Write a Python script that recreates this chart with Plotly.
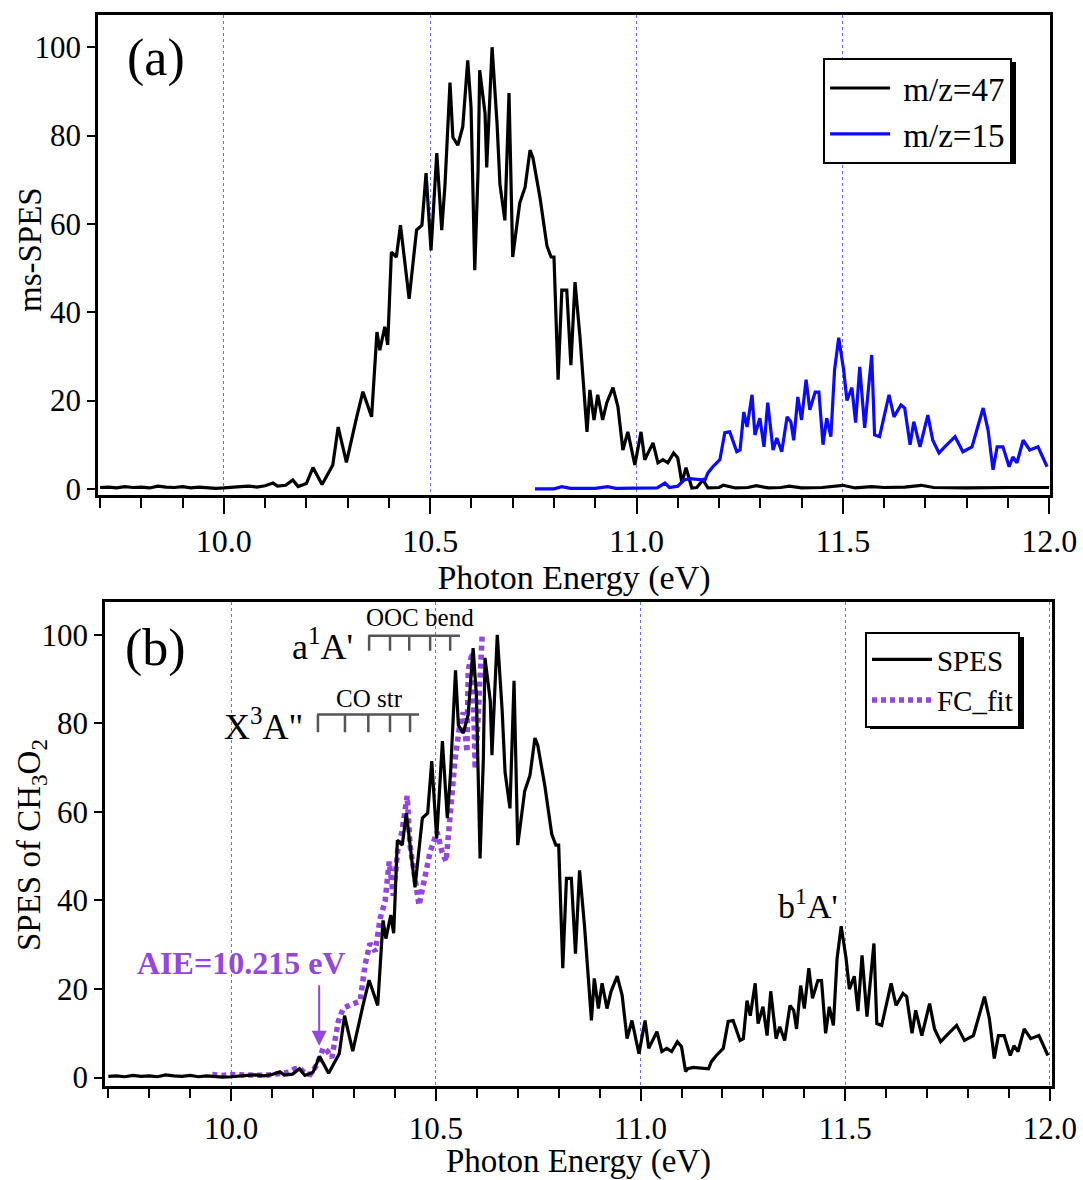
import plotly.graph_objects as go

# ---------------- data ----------------
m47_x = [9.700, 9.720, 9.740, 9.760, 9.780, 9.800, 9.820, 9.840, 9.860, 9.880, 9.900, 9.920,
         9.940, 9.960, 9.980, 10.000, 10.020, 10.040, 10.060, 10.080, 10.100, 10.119, 10.130,
         10.150, 10.167, 10.180, 10.200, 10.216, 10.238, 10.264, 10.277, 10.297, 10.322, 10.337,
         10.358, 10.371, 10.378, 10.390, 10.397, 10.406, 10.418, 10.428, 10.449, 10.467, 10.480,
         10.490, 10.502, 10.516, 10.528, 10.536, 10.548, 10.555, 10.567, 10.579, 10.591, 10.599,
         10.608, 10.616, 10.620, 10.633, 10.637, 10.650, 10.662, 10.669, 10.681, 10.691, 10.700,
         10.717, 10.730, 10.742, 10.749, 10.766, 10.783, 10.793, 10.800, 10.810, 10.819, 10.831,
         10.841, 10.851, 10.863, 10.880, 10.887, 10.897, 10.906, 10.918, 10.928, 10.943, 10.955,
         10.967, 10.979, 10.996, 11.011, 11.020, 11.040, 11.052, 11.064, 11.076, 11.090, 11.100,
         11.110, 11.120, 11.134, 11.146, 11.161, 11.173, 11.200, 11.210, 11.240, 11.270, 11.290,
         11.320, 11.350, 11.370, 11.400, 11.450, 11.500, 11.530, 11.570, 11.600, 11.650, 11.690,
         11.720, 11.800, 11.900, 12.000]
m47_y = [0.3, 0.4, 0.2, 0.5, 0.3, 0.4, 0.2, 0.6, 0.4, 0.3, 0.5, 0.2,
         0.4, 0.3, 0.1, 0.2, 0.4, 0.5, 0.6, 0.4, 0.7, 1.3, 0.6,
         0.8, 2.0, 0.5, 1.2, 4.8, 1.0, 5.4, 14.0, 6.0, 16.3, 22.0,
         16.3, 35.5, 31.4, 36.7, 32.6, 53.6, 52.5, 59.7, 43.0, 58.6, 59.7,
         71.5, 54.0, 76.0, 58.6, 69.0, 92.0, 79.6, 77.8, 82.0, 97.0, 86.4,
         49.5, 72.0, 94.8, 85.0, 72.8, 100.0, 82.8, 69.0, 60.8, 89.6, 52.5,
         64.7, 68.3, 76.7, 75.0, 66.0, 55.0, 52.5, 52.5, 24.7, 45.0, 45.0,
         28.0, 46.8, 34.4, 12.9, 22.4, 15.6, 21.3, 15.6, 19.5, 22.9, 18.6,
         8.8, 12.9, 5.4, 12.9, 6.6, 10.4, 5.9, 6.6, 5.9, 8.1, 7.0,
         1.4, 4.8, 0.2, 0.3, 2.0, 0.2, 0.3, 0.8, 0.2, 0.3, 0.7,
         0.2, 0.3, 0.6, 0.2, 0.3, 0.8, 0.2, 0.5, 0.3, 0.4, 0.8,
         0.3, 0.2, 0.3, 0.3]

m15_x = [10.754, 10.800, 10.819, 10.840, 10.900, 10.930, 10.950, 11.000, 11.050, 11.069,
         11.080, 11.100, 11.115, 11.129, 11.146, 11.166, 11.173, 11.185, 11.202, 11.214,
         11.226, 11.243, 11.251, 11.260, 11.268, 11.280, 11.287, 11.299, 11.309, 11.318,
         11.331, 11.340, 11.352, 11.365, 11.374, 11.381, 11.391, 11.400, 11.411, 11.420,
         11.433, 11.442, 11.452, 11.461, 11.471, 11.480, 11.490, 11.502, 11.510, 11.522,
         11.531, 11.541, 11.553, 11.570, 11.577, 11.589, 11.612, 11.624, 11.641, 11.650,
         11.663, 11.672, 11.687, 11.706, 11.718, 11.733, 11.747, 11.772, 11.791, 11.813,
         11.840, 11.852, 11.864, 11.874, 11.888, 11.903, 11.912, 11.922, 11.937, 11.953,
         11.973, 11.995]
m15_y = [0.0, 0.0, 0.5, 0.1, 0.1, 0.5, 0.1, 0.1, 0.2, 1.3,
         0.3, 0.6, 2.0, 2.3, 2.2, 2.0, 3.6, 5.0, 6.6, 12.7,
         12.9, 8.4, 8.8, 17.4, 14.0, 21.3, 12.2, 16.0, 9.5, 19.5,
         8.8, 11.5, 8.4, 16.3, 15.2, 11.0, 20.8, 15.6, 24.7, 17.9,
         21.9, 21.9, 10.0, 16.0, 11.8, 26.9, 34.2, 26.9, 20.0, 22.9,
         15.0, 27.6, 13.8, 30.3, 12.2, 11.8, 21.3, 16.3, 19.0, 18.3,
         10.0, 15.2, 9.5, 16.7, 11.0, 8.1, 9.5, 11.8, 8.4, 9.5,
         18.3, 13.3, 4.3, 9.5, 9.5, 5.0, 7.2, 5.9, 11.0, 8.8,
         9.5, 5.0]

# SPES of CH3O2: m/z=47 below the crossing, m/z=15 above it
cut47 = 101   # first m47 index at x >= 11.115
cut15 = 12    # first m15 index at x >= 11.115
spes_x = m47_x[:cut47] + m15_x[cut15:]
spes_y = m47_y[:cut47] + m15_y[cut15:]

fc_x = [9.954, 9.980, 10.000, 10.020, 10.040, 10.060, 10.080, 10.100, 10.120, 10.140, 10.155,
        10.168, 10.180, 10.193, 10.210, 10.225, 10.235, 10.246, 10.262, 10.274, 10.291, 10.315,
        10.327, 10.339, 10.352, 10.364, 10.376, 10.386, 10.396, 10.408, 10.417, 10.430, 10.437,
        10.449, 10.459, 10.471, 10.486, 10.503, 10.515, 10.525, 10.532, 10.542, 10.547, 10.557,
        10.567, 10.576, 10.579, 10.589, 10.596, 10.603, 10.613]
fc_y = [0.7, 0.5, 0.7, 0.6, 0.8, 0.6, 0.5, 0.7, 0.9, 1.2, 2.0,
        2.2, 0.9, 0.7, 3.0, 6.7, 6.0, 4.5, 12.8, 15.7, 16.4, 17.3,
        25.4, 30.3, 28.5, 36.0, 39.8, 48.8, 41.1, 52.4, 55.5, 63.6, 52.4,
        44.3, 38.9, 44.3, 51.0, 55.5, 51.0, 48.8, 56.9, 65.8, 71.9, 78.7,
        82.5, 73.5, 92.1, 96.0, 69.7, 80.9, 99.6]

# vibrational progressions (comb positions)
ooc_ticks = [10.337, 10.388, 10.435, 10.486, 10.535]
ooc_span = [10.335, 10.559]
co_ticks = [10.212, 10.278, 10.335, 10.388, 10.437]
co_span = [10.210, 10.459]

x_ticks = [10.0, 10.5, 11.0, 11.5, 12.0]
x_ticklabels = ["10.0", "10.5", "11.0", "11.5", "12.0"]
y_ticks = [0, 20, 40, 60, 80, 100]

# ---------------- styling ----------------
FONT = "Liberation Serif"
BLACK = "#000000"
BLUE = "#0a0aff"
PURPLE = "#9446e0"
GRID = "#6a6aff"
GRAY = "#555555"

fig = go.Figure()
fig.add_trace(go.Scatter(x=m47_x, y=m47_y, mode="lines", name=" m/z=47",
                         line=dict(color=BLACK, width=3.2), xaxis="x", yaxis="y", legend="legend"))
fig.add_trace(go.Scatter(x=m15_x, y=m15_y, mode="lines", name=" m/z=15",
                         line=dict(color=BLUE, width=3.2), xaxis="x", yaxis="y", legend="legend"))
fig.add_trace(go.Scatter(x=fc_x, y=fc_y, mode="lines", name="FC_fit",
                         line=dict(color=PURPLE, width=5.5, dash="5px,4px"),
                         xaxis="x2", yaxis="y2", legend="legend2", showlegend=False))
fig.add_trace(go.Scatter(x=spes_x, y=spes_y, mode="lines", name="SPES",
                         line=dict(color=BLACK, width=3.2), xaxis="x2", yaxis="y2", legend="legend2"))
# legend entry for FC_fit (keeps order SPES, FC_fit)
fig.add_trace(go.Scatter(x=[None], y=[None], mode="lines", name="FC_fit",
                         line=dict(color=PURPLE, width=5.5, dash="5px,4px"),
                         xaxis="x2", yaxis="y2", legend="legend2"))

def xaxis_style(domain, rng, anchor, tfs, ttl_fs, tl):
    return dict(domain=domain, range=rng, anchor=anchor,
                tickmode="array", tickvals=x_ticks, ticktext=x_ticklabels,
                ticks="outside", ticklen=tl, tickwidth=2, tickcolor=BLACK,
                minor=dict(dtick=0.1, tick0=9.7, ticks="outside", ticklen=10, tickwidth=2,
                           tickcolor=BLACK, showgrid=False),
                showgrid=True, gridcolor=GRID, griddash="dot", gridwidth=1,
                showline=True, mirror=True, linewidth=2.5, linecolor=BLACK,
                zeroline=False, automargin=False,
                tickfont=dict(family=FONT, size=tfs, color=BLACK),
                title=dict(text="Photon Energy (eV)", font=dict(family=FONT, size=ttl_fs, color=BLACK),
                           standoff=0))

def yaxis_style(domain, rng, anchor):
    return dict(domain=domain, range=rng, anchor=anchor,
                tickmode="array", tickvals=y_ticks,
                ticks="outside", ticklen=8, tickwidth=2, tickcolor=BLACK,
                showgrid=False, showline=True, mirror=True, linewidth=2.5, linecolor=BLACK,
                zeroline=False, automargin=False,
                tickfont=dict(family=FONT, size=31, color=BLACK))

fig.update_layout(
    width=1083, height=1180,
    margin=dict(l=0, r=0, t=0, b=0),
    paper_bgcolor="white", plot_bgcolor="white",
    font=dict(family=FONT, color=BLACK),
    xaxis=xaxis_style([0.0905, 0.9695], [9.695, 12.002], "y", 32, 34, 16),
    yaxis=yaxis_style([0.5805, 0.9873], [-1.4, 107.3], "x"),
    xaxis2=xaxis_style([0.097, 0.9714], [9.692, 12.005], "y2", 31, 33, 13),
    yaxis2=yaxis_style([0.080, 0.4898], [-1.8, 107.4], "x2"),
    legend=dict(x=0.760, y=0.9508, xanchor="left", yanchor="top",
                bgcolor="white", bordercolor=BLACK, borderwidth=2,
                font=dict(family=FONT, size=33, color=BLACK), itemwidth=60,
                tracegroupgap=0),
    legend2=dict(x=0.7987, y=0.4644, xanchor="left", yanchor="top",
                 bgcolor="white", bordercolor=BLACK, borderwidth=2,
                 font=dict(family=FONT, size=29, color=BLACK), itemwidth=60,
                 tracegroupgap=0),
    showlegend=True,
)

W, H = 1083.0, 1180.0
shapes = []
# legend drop shadows (thicker right / bottom edges)
shapes.append(dict(type="rect", xref="paper", yref="paper", layer="above",
                   x0=827 / W, x1=1016 / W, y0=1 - 164 / H, y1=1 - 62 / H,
                   line=dict(width=0), fillcolor=BLACK))
shapes.append(dict(type="rect", xref="paper", yref="paper", layer="above",
                   x0=870 / W, x1=1024 / W, y0=1 - 729 / H, y1=1 - 637 / H,
                   line=dict(width=0), fillcolor=BLACK))
# OOC bend comb
shapes.append(dict(type="line", xref="x2", yref="y2", x0=ooc_span[0], x1=ooc_span[1],
                   y0=99.8, y1=99.8, line=dict(color=GRAY, width=2.5)))
for t in ooc_ticks:
    shapes.append(dict(type="line", xref="x2", yref="y2", x0=t, x1=t, y0=99.8, y1=96.4,
                       line=dict(color=GRAY, width=2.5)))
# CO str comb
shapes.append(dict(type="line", xref="x2", yref="y2", x0=co_span[0], x1=co_span[1],
                   y0=82.0, y1=82.0, line=dict(color=GRAY, width=2.5)))
for t in co_ticks:
    shapes.append(dict(type="line", xref="x2", yref="y2", x0=t, x1=t, y0=82.0, y1=78.0,
                       line=dict(color=GRAY, width=2.5)))
fig.update_layout(shapes=shapes)

ann = [
    dict(text="ms-SPES", xref="paper", yref="paper", x=30 / W, y=1 - 250 / H, textangle=-90,
         xanchor="center", yanchor="middle", showarrow=False,
         font=dict(family=FONT, size=33, color=BLACK)),
    dict(text="SPES of CH<sub>3</sub>O<sub>2</sub>", xref="paper", yref="paper", x=31 / W,
         y=1 - 845 / H, textangle=-90, xanchor="center", yanchor="middle", showarrow=False,
         font=dict(family=FONT, size=33, color=BLACK)),
    dict(text="(a)", xref="paper", yref="paper", x=0.144, y=0.951, xanchor="center",
         yanchor="middle", showarrow=False, font=dict(family=FONT, size=52, color=BLACK)),
    dict(text="(b)", xref="paper", yref="paper", x=0.144, y=0.4508, xanchor="center",
         yanchor="middle", showarrow=False, font=dict(family=FONT, size=52, color=BLACK)),
    dict(text="a<sup>1</sup>A'", xref="x2", yref="y2", x=10.303, y=97.8, xanchor="right",
         yanchor="middle", showarrow=False, font=dict(family=FONT, size=36, color=BLACK)),
    dict(text="X<sup>3</sup>A\"", xref="x2", yref="y2", x=10.181, y=79.8, xanchor="right",
         yanchor="middle", showarrow=False, font=dict(family=FONT, size=36, color=BLACK)),
    dict(text="OOC bend", xref="x2", yref="y2", x=10.461, y=103.8, xanchor="center",
         yanchor="middle", showarrow=False, font=dict(family=FONT, size=25, color=BLACK)),
    dict(text="CO str", xref="x2", yref="y2", x=10.339, y=85.6, xanchor="center",
         yanchor="middle", showarrow=False, font=dict(family=FONT, size=25, color=BLACK)),
    dict(text="b<sup>1</sup>A'", xref="x2", yref="y2", x=11.409, y=39.3, xanchor="center",
         yanchor="middle", showarrow=False, font=dict(family=FONT, size=34, color=BLACK)),
    dict(text="<b>AIE=10.215 eV</b>", xref="x2", yref="y2", x=10.024, y=25.8, xanchor="center",
         yanchor="middle", showarrow=False, font=dict(family=FONT, size=32, color=PURPLE)),
    dict(text="", xref="x2", yref="y2", x=10.215, y=7.2, ax=0, ay=-62, showarrow=True,
         arrowhead=2, arrowsize=1.5, arrowwidth=2, arrowcolor=PURPLE),
]
fig.update_layout(annotations=ann)

fig.write_html("out.html", config={"displayModeBar": False},
               post_script="document.body.style.margin='0px';document.body.style.overflow='hidden';")
